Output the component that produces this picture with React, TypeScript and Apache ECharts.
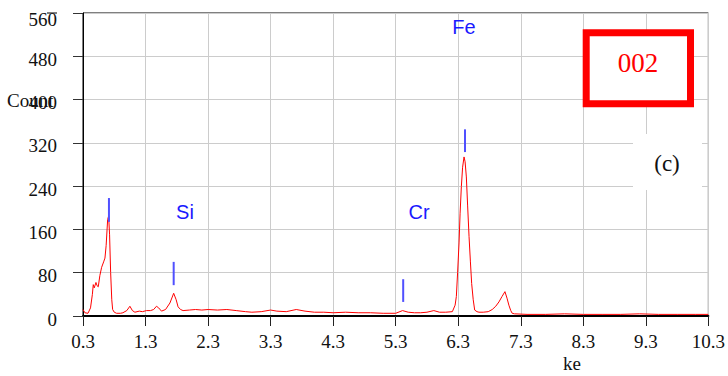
import React, { useEffect, useRef } from "react";
import * as echarts from "echarts";

// Spectrum: energy (keV) and counts
const energyKeV = [
  0.3, 0.33, 0.38, 0.42, 0.45, 0.464, 0.48, 0.507, 0.525, 0.544, 0.57, 0.598, 0.63, 0.651, 0.67, 0.694,
  0.71, 0.725, 0.742, 0.76, 0.774, 0.8, 0.837, 0.9, 0.938, 1.0, 1.05, 1.09, 1.13, 1.2, 1.25, 1.316,
  1.38, 1.43, 1.475, 1.51, 1.555, 1.62, 1.69, 1.75, 1.79, 1.82, 1.86, 1.9, 2.0, 2.1, 2.2, 2.3,
  2.45, 2.6, 2.75, 2.9, 3.0, 3.15, 3.3, 3.4, 3.55, 3.71, 3.85, 4.0, 4.15, 4.3, 4.5, 4.7,
  4.9, 5.1, 5.3, 5.41, 5.5, 5.6, 5.7, 5.8, 5.91, 6.0, 6.1, 6.206, 6.25, 6.27, 6.29, 6.313,
  6.33, 6.35, 6.37, 6.393, 6.41, 6.43, 6.45, 6.473, 6.495, 6.515, 6.54, 6.563, 6.6, 6.632, 6.7, 6.78,
  6.844, 6.9, 6.951, 7.0, 7.047, 7.08, 7.11, 7.14, 7.163, 7.2, 7.4, 7.7, 8.0, 8.3, 8.6, 8.9,
  9.2, 9.5, 9.8, 10.1, 10.3,
];
const counts = [
  12, 6, 5, 15, 40, 58, 52, 62, 56, 54, 75, 90, 100, 107, 130, 178,
  185, 150, 80, 30, 12, 7, 5, 5, 6, 10, 18, 10, 7, 9, 8, 10,
  10, 12, 18, 15, 9, 12, 24, 42, 30, 17, 12, 10, 11, 12, 11, 12,
  11, 12, 10, 8, 7, 8, 11, 9, 8, 12, 9, 7, 7, 6, 7, 6,
  6, 5, 5, 10, 7, 6, 6, 7, 10, 7, 7, 8, 20, 36, 80, 135,
  190, 239, 275, 294, 285, 257, 205, 147, 100, 60, 30, 11, 8, 7, 7, 8,
  12, 18, 26, 36, 45, 33, 20, 10, 5, 4, 3, 3, 4, 3, 3, 3,
  4, 3, 3, 3, 3,
];

// Element marker lines (keV, low count, high count)
const markerKeV = [0.715, 1.75, 5.42, 6.408];
const markerLow = [174, 57, 26, 303];
const markerHigh = [218, 100, 68, 345];

// Element labels
const elementNames = ["Si", "Cr", "Fe"];

// Axis ticks
const xStartKeV = 0.3;
const xSpan = 10;
const yMax = 560;
const yStep = 80;

export default function App() {
  const ref = useRef<HTMLDivElement>(null);
  useEffect(() => {
    if (!ref.current) return;
    const chart = echarts.init(ref.current, null, { renderer: "svg" });
    const lineData = energyKeV.map((e, i) => [e - xStartKeV, counts[i]]);
    const markerData = markerKeV.map((e, i) => [e - xStartKeV, markerLow[i], markerHigh[i]]);
    const serif = "'Liberation Serif', 'Times New Roman', serif";
    const sans = "'Liberation Sans', Arial, sans-serif";
    chart.setOption({
      animation: false,
      backgroundColor: "#fff",
      grid: {
        left: 83,
        right: 18,
        top: 13,
        bottom: 60,
        show: true,
        borderColor: "#000",
        borderWidth: 1,
      },
      xAxis: {
        type: "value",
        min: 0,
        max: xSpan,
        interval: 1,
        axisLine: { show: true, onZero: false, lineStyle: { color: "#000", width: 2 } },
        axisTick: { show: true, length: 10, lineStyle: { color: "#222" } },
        axisLabel: {
          margin: 16,
          fontFamily: serif,
          fontSize: 19,
          color: "#111",
          formatter: (v: number) => (v + xStartKeV).toFixed(1),
        },
        splitLine: { show: true, lineStyle: { color: "#cccccc", width: 1 } },
      },
      yAxis: {
        type: "value",
        min: 0,
        max: yMax,
        interval: yStep,
        axisLine: { show: true, lineStyle: { color: "#000", width: 1 } },
        axisTick: { show: true, length: 10, lineStyle: { color: "#333" } },
        axisLabel: {
          margin: 26,
          fontFamily: serif,
          fontSize: 19,
          color: "#111",
          padding: [6, 0, 0, 0],
          formatter: (v: number) => (v === yMax ? "{top|" + v + "}" : String(v)),
          rich: {
            top: { fontFamily: serif, fontSize: 19, color: "#111", padding: [6, 0, 0, 0] },
          },
        },
        splitLine: { show: true, lineStyle: { color: "#cccccc", width: 1 } },
      },
      series: [
        {
          type: "line",
          data: lineData,
          symbol: "none",
          lineStyle: { color: "#ff0000", width: 1 },
          z: 3,
        },
        {
          type: "custom",
          data: markerData,
          z: 4,
          renderItem: (params: any, api: any) => {
            const p0 = api.coord([api.value(0), api.value(1)]);
            const p1 = api.coord([api.value(0), api.value(2)]);
            return {
              type: "line",
              shape: { x1: p0[0], y1: p0[1], x2: p1[0], y2: p1[1] },
              style: { stroke: "#5050ff", lineWidth: 2 },
            };
          },
        },
      ],
      graphic: [
        {
          type: "line",
          shape: { x1: 47, y1: 13, x2: 57, y2: 13 },
          style: { stroke: "#000", lineWidth: 1 },
        },
        {
          type: "text",
          x: 7,
          y: 100,
          z: 10,
          style: { text: "Count", fontFamily: serif, fontSize: 19, fill: "#111", verticalAlign: "middle" },
        },
        {
          type: "text",
          x: 572,
          y: 363,
          style: {
            text: "ke",
            fontFamily: serif,
            fontSize: 19,
            fill: "#111",
            align: "center",
            verticalAlign: "middle",
          },
        },
        {
          type: "text",
          x: 185,
          y: 212,
          z: 10,
          style: { text: elementNames[0], fontFamily: sans, fontSize: 20, fill: "#1a1aff", align: "center", verticalAlign: "middle" },
        },
        {
          type: "text",
          x: 419,
          y: 212,
          z: 10,
          style: { text: elementNames[1], fontFamily: sans, fontSize: 20, fill: "#1a1aff", align: "center", verticalAlign: "middle" },
        },
        {
          type: "text",
          x: 464,
          y: 27,
          z: 10,
          style: { text: elementNames[2], fontFamily: sans, fontSize: 20, fill: "#1a1aff", align: "center", verticalAlign: "middle" },
        },
        {
          type: "rect",
          z: 10,
          shape: { x: 586.2, y: 32.8, width: 104.3, height: 71 },
          style: { fill: "#fff", stroke: "#ff0000", lineWidth: 7 },
        },
        {
          type: "text",
          x: 638,
          y: 63,
          z: 11,
          style: { text: "002", fontFamily: serif, fontSize: 27, fill: "#ff0000", align: "center", verticalAlign: "middle" },
        },
        {
          type: "rect",
          z: 10,
          shape: { x: 633, y: 134, width: 69, height: 56 },
          style: { fill: "#fff" },
        },
        {
          type: "text",
          x: 667,
          y: 163,
          z: 11,
          style: { text: "(c)", fontFamily: serif, fontSize: 23, fill: "#111", align: "center", verticalAlign: "middle" },
        },
      ],
    });
    return () => chart.dispose();
  }, []);
  return (
    <div
      ref={ref}
      style={{ position: "fixed", left: 0, top: 0, width: 728, height: 376, background: "#fff" }}
    />
  );
}
